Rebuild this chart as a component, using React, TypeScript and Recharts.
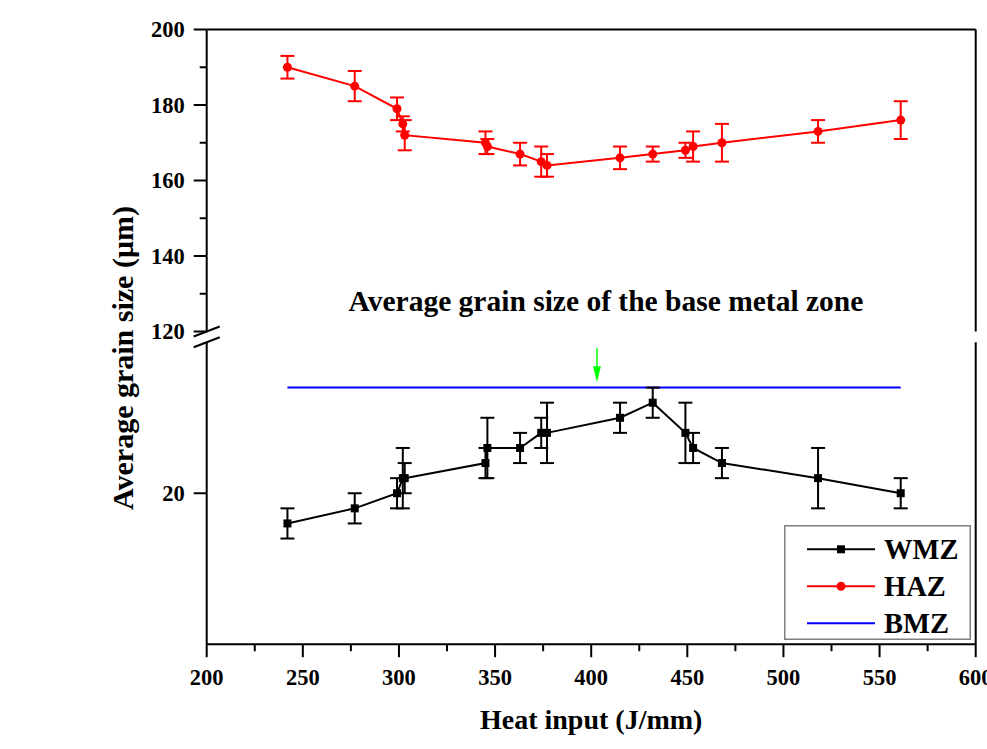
import { ComposedChart, Line, XAxis, YAxis, ErrorBar, ReferenceLine, Legend, Label } from "recharts";

// heat input of each weld (J/mm), shared by both zones
const heatInput = [242, 277, 299, 302, 303, 345, 346, 363, 374, 377, 415, 432, 449, 453, 468, 518, 561];

// weld metal zone grain size (µm) and its scatter
const wmzSize = [18, 19, 20, 21, 21, 22, 23, 23, 24, 24, 25, 26, 24, 23, 22, 21, 20];
const wmzError = [1, 1, 1, 2, 1, 1, 2, 1, 1, 2, 1, 1, 2, 1, 1, 2, 1];

// heat affected zone grain size (µm) and its scatter
const hazSize = [190, 185, 179, 175, 172, 170, 169, 167, 165, 164, 166, 167, 168, 169, 170, 173, 176];
const hazError = [3, 4, 3, 2, 4, 3, 2, 3, 4, 3, 3, 2, 2, 4, 5, 3, 5];

// base metal reference level
const bmzHeatInput = [242, 561];
const bmzSize = [27, 27];

const seriesNames = ["WMZ", "HAZ", "BMZ"];
const seriesColors = ["#000000", "#ff0000", "#0000ff"];

const xTicks = [200, 225, 250, 275, 300, 325, 350, 375, 400, 425, 450, 475, 500, 525, 550, 575, 600];
const xLabels = [200, 250, 300, 350, 400, 450, 500, 550, 600];
const upperTicks = [120, 130, 140, 150, 160, 170, 180, 190, 200];
const upperLabels = [120, 140, 160, 180, 200];
const lowerTicks = [20, 30];
const lowerLabels = [20];

const wmzData = heatInput.map((x, i) => ({ x, size: wmzSize[i], err: wmzError[i] }));
const hazData = heatInput.map((x, i) => ({ x, size: hazSize[i], err: hazError[i] }));
const bmzData = bmzHeatInput.map((x, i) => ({ x, size: bmzSize[i] }));

const W = 987;
const H = 749;
const PLOT_L = 206.7;
const PLOT_R = 975.7;
const UP_TOP = 29.5;
const UP_BOT = 331.5;
const LO_TOP = 342.3;
const LO_BOT = 644.2;

// axis boxes (recharts skips axes with zero size)
const LEFT_W = 80;
const RIGHT_W = 10;
const TOP_H = 10;
const BOTTOM_H = 60;

const FONT = '"Liberation Serif", "Times New Roman", serif';
const AXIS = { stroke: "#000", strokeWidth: 2 };

const Slash = ({ x, y }: { x: number; y: number }) => (
  <line x1={x - 13} y1={y + 5} x2={x + 13} y2={y - 5} stroke="#000" strokeWidth={2} />
);

const LeftTick = (props: any) => {
  const { x, y, payload, labels, ticks, breakAt } = props;
  const v = payload.value;
  const major = labels.includes(v);
  const withLine = major || (ticks.includes(v) && v !== breakAt);
  return (
    <g>
      {withLine && <line x1={x - (major ? 13 : 7)} x2={x} y1={y} y2={y} stroke="#000" strokeWidth={2} />}
      {major && (
        <text x={x - 22} y={y} dy="0.35em" textAnchor="end" fontFamily={FONT} fontWeight="bold" fontSize={22.5} fill="#000">
          {v}
        </text>
      )}
      {v === breakAt && <Slash x={x} y={y} />}
    </g>
  );
};

const RightBreak = (props: any) => <Slash x={props.x} y={props.y} />;

const BottomTick = (props: any) => {
  const { x, y, payload } = props;
  const v = payload.value;
  const major = xLabels.includes(v);
  return (
    <g>
      <line x1={x} x2={x} y1={y} y2={y + (major ? 13 : 7)} stroke="#000" strokeWidth={2} />
      {major && (
        <text x={x} y={y + 41} textAnchor="middle" fontFamily={FONT} fontWeight="bold" fontSize={22.5} fill="#000">
          {v}
        </text>
      )}
    </g>
  );
};

const HazDot = (props: any) => <circle key={props.index} cx={props.cx} cy={props.cy} r={4.5} fill="#ff0000" />;
const WmzDot = (props: any) => (
  <rect key={props.index} x={props.cx - 4} y={props.cy - 4} width={8} height={8} fill="#000" />
);

// green pointer from the note down to the base metal line
const Pointer = (props: any) => {
  const { x1, y1, x2, y2 } = props;
  return (
    <g>
      <text x={x1 + 9} y={y1 - 37} textAnchor="middle" fontFamily={FONT} fontWeight="bold" fontSize={29.5} fill="#000">
        Average grain size of the base metal zone
      </text>
      <line x1={x1} y1={y1} x2={x2} y2={y2 - 14} stroke="#00ff00" strokeWidth={1.5} />
      <polygon points={`${x2 - 4},${y2 - 16} ${x2 + 4},${y2 - 16} ${x2},${y2}`} fill="#00ff00" />
    </g>
  );
};

const LegendBox = () => (
  <svg width={187} height={115} style={{ display: "block" }}>
    <rect x={0.75} y={0.75} width={185.5} height={113.5} fill="#fff" stroke="#7f7f7f" strokeWidth={1.5} />
    {seriesNames.map((name, i) => {
      const cy = 24.3 + i * 37;
      return (
        <g key={name}>
          <line x1={23} x2={91} y1={cy} y2={cy} stroke={seriesColors[i]} strokeWidth={2} />
          {i === 0 && <rect x={53} y={cy - 4} width={8} height={8} fill={seriesColors[i]} />}
          {i === 1 && <circle cx={57} cy={cy} r={4.5} fill={seriesColors[i]} />}
          <text x={100} y={cy + 9.5} fontFamily={FONT} fontWeight="bold" fontSize={28.5} fill="#000">
            {name}
          </text>
        </g>
      );
    })}
  </svg>
);

export default function App() {
  return (
    <div style={{ position: "absolute", left: 0, top: 0, width: W, height: H, background: "#fff", overflow: "hidden" }}>
      {/* upper panel: heat affected zone */}
      <div style={{ position: "absolute", left: 0, top: 0 }}>
        <ComposedChart
          width={W}
          height={H}
          margin={{
            top: UP_TOP - TOP_H,
            right: W - PLOT_R - RIGHT_W,
            bottom: H - UP_BOT,
            left: PLOT_L - LEFT_W,
          }}
        >
          <XAxis
            xAxisId="x"
            orientation="top"
            type="number"
            dataKey="x"
            domain={[200, 600]}
            height={TOP_H}
            tick={false}
            tickLine={false}
            axisLine={AXIS}
          />
          <YAxis
            yAxisId="l"
            type="number"
            domain={[120, 200]}
            width={LEFT_W}
            ticks={upperTicks}
            interval={0}
            tickSize={0}
            tickMargin={0}
            tickLine={false}
            axisLine={AXIS}
            tick={(p: any) => <LeftTick {...p} labels={upperLabels} ticks={upperTicks} breakAt={120} />}
          />
          <YAxis
            yAxisId="r"
            orientation="right"
            type="number"
            domain={[120, 200]}
            width={RIGHT_W}
            ticks={[120]}
            interval={0}
            tickSize={0}
            tickMargin={0}
            tickLine={false}
            axisLine={AXIS}
            tick={RightBreak}
          />
          <Line
            xAxisId="x"
            yAxisId="l"
            data={hazData}
            dataKey="size"
            name={seriesNames[1]}
            type="linear"
            stroke={seriesColors[1]}
            strokeWidth={2}
            dot={HazDot}
            activeDot={false}
            isAnimationActive={false}
          >
            <ErrorBar dataKey="err" width={7} strokeWidth={2} stroke={seriesColors[1]} direction="y" isAnimationActive={false} />
          </Line>
        </ComposedChart>
      </div>

      {/* lower panel: weld metal and base metal */}
      <div style={{ position: "absolute", left: 0, top: 0 }}>
        <ComposedChart
          width={W}
          height={H}
          margin={{
            top: LO_TOP,
            right: W - PLOT_R - RIGHT_W,
            bottom: H - LO_BOT - BOTTOM_H,
            left: PLOT_L - LEFT_W,
          }}
        >
          <XAxis
            xAxisId="x"
            type="number"
            dataKey="x"
            domain={[200, 600]}
            height={BOTTOM_H}
            ticks={xTicks}
            interval={0}
            tickSize={0}
            tickMargin={0}
            tickLine={false}
            axisLine={AXIS}
            tick={BottomTick}
          >
            <Label
              content={() => (
                <text
                  x={(PLOT_L + PLOT_R) / 2}
                  y={729}
                  textAnchor="middle"
                  fontFamily={FONT}
                  fontWeight="bold"
                  fontSize={28}
                  fill="#000"
                >
                  Heat input (J/mm)
                </text>
              )}
            />
          </XAxis>
          <YAxis
            yAxisId="l"
            type="number"
            domain={[10, 30]}
            width={LEFT_W}
            ticks={lowerTicks}
            interval={0}
            tickSize={0}
            tickMargin={0}
            tickLine={false}
            axisLine={AXIS}
            tick={(p: any) => <LeftTick {...p} labels={lowerLabels} ticks={lowerTicks} breakAt={30} />}
          >
            <Label
              content={() => (
                <text
                  x={122}
                  y={358}
                  transform="rotate(-90 122 358)"
                  textAnchor="middle"
                  dominantBaseline="central"
                  fontFamily={FONT}
                  fontWeight="bold"
                  fontSize={30}
                  fill="#000"
                >
                  Average grain size (μm)
                </text>
              )}
            />
          </YAxis>
          <YAxis
            yAxisId="r"
            orientation="right"
            type="number"
            domain={[10, 30]}
            width={RIGHT_W}
            ticks={[30]}
            interval={0}
            tickSize={0}
            tickMargin={0}
            tickLine={false}
            axisLine={AXIS}
            tick={RightBreak}
          />
          <Line
            xAxisId="x"
            yAxisId="l"
            data={bmzData}
            dataKey="size"
            name={seriesNames[2]}
            type="linear"
            stroke={seriesColors[2]}
            strokeWidth={2}
            dot={false}
            activeDot={false}
            isAnimationActive={false}
          />
          <Line
            xAxisId="x"
            yAxisId="l"
            data={wmzData}
            dataKey="size"
            name={seriesNames[0]}
            type="linear"
            stroke={seriesColors[0]}
            strokeWidth={2}
            dot={WmzDot}
            activeDot={false}
            isAnimationActive={false}
          >
            <ErrorBar dataKey="err" width={7} strokeWidth={2} stroke={seriesColors[0]} direction="y" isAnimationActive={false} />
          </Line>
          <ReferenceLine
            xAxisId="x"
            yAxisId="l"
            segment={[
              { x: 403, y: 29.6 },
              { x: 403, y: bmzSize[0] + 0.35 },
            ]}
            ifOverflow="visible"
            shape={Pointer}
          />
          <Legend
            layout="vertical"
            align="center"
            verticalAlign="middle"
            wrapperStyle={{ left: 784, top: 525, width: 187, height: 115 }}
            content={LegendBox}
          />
        </ComposedChart>
      </div>
    </div>
  );
}
